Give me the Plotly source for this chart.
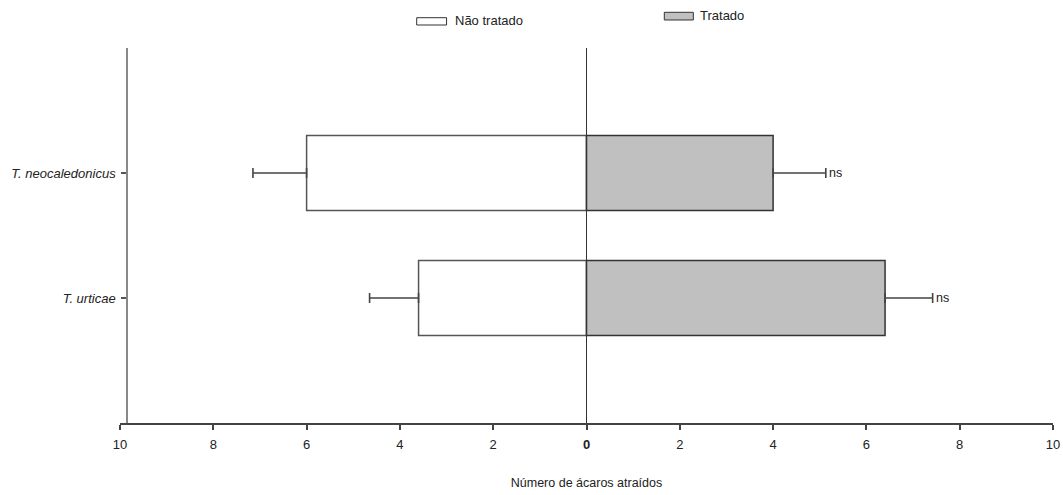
import plotly.graph_objects as go

# Data
categories = ["T. urticae", "T. neocaledonicus"]
cat_labels = ["<i>T. urticae</i>", "<i>T. neocaledonicus</i>"]
nao_tratado = [-3.6, -6.0]          # plotted to the left
nao_tratado_err = [1.05, 1.15]
tratado = [6.4, 4.0]
tratado_err = [1.02, 1.13]
signif = ["ns", "ns"]
tick_vals = [-10, -8, -6, -4, -2, 0, 2, 4, 6, 8, 10]
tick_text = ["10", "8", "6", "4", "2", "<b>0</b>", "2", "4", "6", "8", "10"]

FONT = "Liberation Sans, Arial, sans-serif"
err_color = "#444444"

fig = go.Figure()
fig.add_trace(go.Bar(
    y=categories, x=nao_tratado, orientation="h", width=0.6,
    name="Não tratado",
    marker=dict(color="white", line=dict(color="#555555", width=1.5)),
    error_x=dict(type="data", symmetric=False, array=[0, 0],
                 arrayminus=nao_tratado_err, color=err_color,
                 thickness=1.6, width=5),
))
fig.add_trace(go.Bar(
    y=categories, x=tratado, orientation="h", width=0.6,
    name="Tratado",
    marker=dict(color="#c0c0c0", line=dict(color="#333333", width=1.5)),
    error_x=dict(type="data", symmetric=False, array=tratado_err,
                 arrayminus=[0, 0], color=err_color,
                 thickness=1.6, width=5),
))

# significance labels at the end of the error bars
for c, v, e, s in zip(categories, tratado, tratado_err, signif):
    fig.add_annotation(x=v + e, y=c, text=s, showarrow=False,
                       xanchor="left", xshift=1,
                       font=dict(family=FONT, size=12.5, color="#222"))

# manual legend
legend_items = [
    dict(name="Não tratado", fill="white", x0=0.318, x1=0.350, y0=1.0613, y1=1.0808, tx=0.357, ty=1.0725),
    dict(name="Tratado", fill="#c0c0c0", x0=0.5834, x1=0.6145, y0=1.0747, y1=1.0952, tx=0.619, ty=1.0855),
]
for it in legend_items:
    fig.add_shape(type="rect", xref="paper", yref="paper",
                  x0=it["x0"], x1=it["x1"], y0=it["y0"], y1=it["y1"],
                  fillcolor=it["fill"], line=dict(color="#333333", width=1))
    fig.add_annotation(xref="paper", yref="paper", x=it["tx"], y=it["ty"],
                       text=it["name"], showarrow=False, xanchor="left",
                       yanchor="middle",
                       font=dict(family=FONT, size=13, color="#222"))

fig.update_layout(
    width=1063, height=495,
    margin=dict(l=120, r=10, t=48, b=72, autoexpand=False),
    paper_bgcolor="white", plot_bgcolor="white",
    barmode="overlay", showlegend=False,
    font=dict(family=FONT, size=12, color="#222"),
    xaxis=dict(
        range=[-10, 10], tickvals=tick_vals, ticktext=tick_text,
        automargin=False,
        showline=True, linecolor="#444444", linewidth=1.5,
        ticks="outside", ticklen=5, tickwidth=1.5, tickcolor="#444444",
        ticklabelstandoff=4,
        showgrid=False, zeroline=True, zerolinecolor="#333333", zerolinewidth=1,
        tickfont=dict(family=FONT, size=13, color="#222"),
        title=dict(text="Número de ácaros atraídos", standoff=27,
                   font=dict(family=FONT, size=12.5, color="#222")),
    ),
    yaxis=dict(
        type="category", categoryorder="array", categoryarray=categories,
        tickvals=categories, ticktext=cat_labels,
        range=[-1, 2], anchor="free", position=0.0075,
        automargin=False, ticklabelstandoff=3,
        showline=True, linecolor="#888888", linewidth=1.5,
        ticks="outside", ticklen=5, tickwidth=1.5, tickcolor="#555555",
        showgrid=False, zeroline=False,
        tickfont=dict(family=FONT, size=13, color="#222"),
    ),
)

fig.write_html("out.html")
